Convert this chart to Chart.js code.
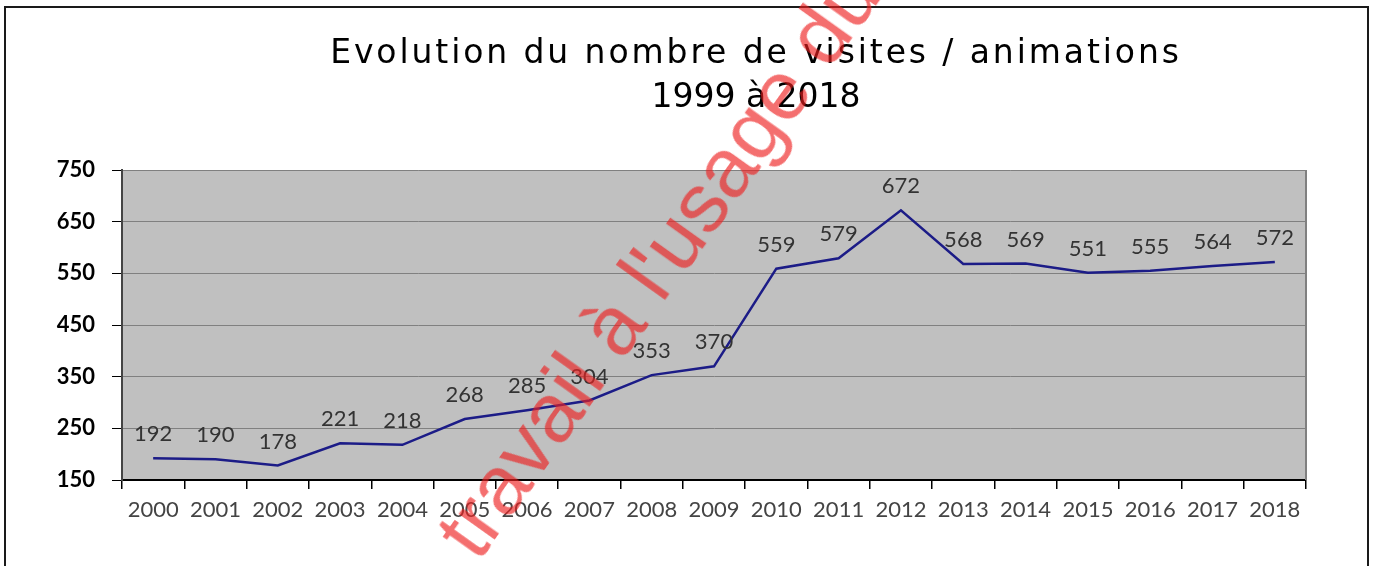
<!DOCTYPE html>
<html>
<head>
<meta charset="utf-8">
<script src="https://cdn.jsdelivr.net/npm/chart.js@4.4.1/dist/chart.umd.min.js"></script>
<style>
html,body{margin:0;padding:0;background:#fff;overflow:hidden;width:1373px;height:566px;}
#frame{position:absolute;left:4px;top:6px;width:1365px;height:640px;border:2px solid #1a1a1a;box-sizing:border-box;}
#title{position:absolute;left:256px;top:30px;width:1000px;text-align:center;font-family:"DejaVu Sans",sans-serif;font-size:33px;line-height:44px;color:#000;white-space:nowrap;}
#title .l1{letter-spacing:2.9px;}
#title .l2{letter-spacing:0px;}
#chart{position:absolute;left:0;top:0;}
#wm{position:absolute;left:420px;top:522px;transform-origin:0 0;transform:rotate(-54.5deg);font-family:"Liberation Sans",Arial,sans-serif;font-size:84px;line-height:84px;color:rgba(238,30,30,0.64);white-space:nowrap;pointer-events:none;}
</style>
</head>
<body>
<div id="frame"></div>
<canvas id="chart" width="1373" height="566"></canvas>
<div id="title"><span class="l1">Evolution du nombre de visites / animations</span><br><span class="l2">1999 à 2018</span></div>
<div id="wm">travail à l'usage du service</div>
<script>
const categories = ['2000','2001','2002','2003','2004','2005','2006','2007','2008','2009','2010','2011','2012','2013','2014','2015','2016','2017','2018'];
const visits = [192,190,178,221,218,268,285,304,353,370,559,579,672,568,569,551,555,564,572];
const yMin = 150;
const yMax = 750;
const yStep = 100;

const plotBackground = {
  id: 'plotBackground',
  beforeDraw(chart) {
    const a = chart.chartArea, ctx = chart.ctx;
    ctx.save();
    ctx.fillStyle = '#c0c0c0';
    ctx.fillRect(a.left, a.top, a.right - a.left, a.bottom - a.top);
    ctx.restore();
  },
  beforeDatasetsDraw(chart) {
    const a = chart.chartArea, ctx = chart.ctx;
    ctx.save();
    ctx.strokeStyle = '#808080';
    ctx.lineWidth = 2;
    ctx.beginPath();
    ctx.moveTo(a.right, a.top);
    ctx.lineTo(a.right, a.bottom);
    ctx.stroke();
    ctx.restore();
  }
};

const valueLabels = {
  id: 'valueLabels',
  afterDatasetsDraw(chart) {
    const ctx = chart.ctx;
    const meta = chart.getDatasetMeta(0);
    const data = chart.data.datasets[0].data;
    ctx.save();
    ctx.font = '22px Lato';
    ctx.fillStyle = '#333';
    ctx.textAlign = 'center';
    ctx.textBaseline = 'middle';
    meta.data.forEach((pt, i) => {
      ctx.fillText(String(data[i]), pt.x, pt.y - 24);
    });
    ctx.restore();
  }
};

new Chart(document.getElementById('chart'), {
  type: 'line',
  data: {
    labels: categories,
    datasets: [{
      data: visits,
      borderColor: '#1c1c87',
      borderWidth: 2.5,
      pointRadius: 0,
      tension: 0,
      fill: false
    }]
  },
  options: {
    responsive: false,
    animation: false,
    layout: { padding: { top: 170, right: 67, bottom: 0, left: 0 } },
    plugins: { legend: { display: false }, title: { display: false }, tooltip: { enabled: false } },
    scales: {
      x: {
        type: 'category',
        offset: true,
        grid: { offset: true, drawOnChartArea: false, drawTicks: true, tickLength: 9, tickColor: '#000', lineWidth: 1.5 },
        border: { display: true, color: '#000', width: 2 },
        ticks: { color: '#444', font: { family: 'Lato', size: 22 }, padding: 8, maxRotation: 0, minRotation: 0, autoSkip: false },
        afterFit(s) { s.height = 86; }
      },
      y: {
        min: yMin,
        max: yMax,
        ticks: { stepSize: yStep, color: '#000', font: { family: 'Lato', size: 22, weight: 'bold' }, padding: 17 },
        grid: { color: '#808080', lineWidth: 1, tickLength: 10, tickColor: '#000' },
        border: { color: '#444', width: 2 },
        afterFit(s) { s.width = 122; }
      }
    }
  },
  plugins: [plotBackground, valueLabels]
});
</script>
</body>
</html>
